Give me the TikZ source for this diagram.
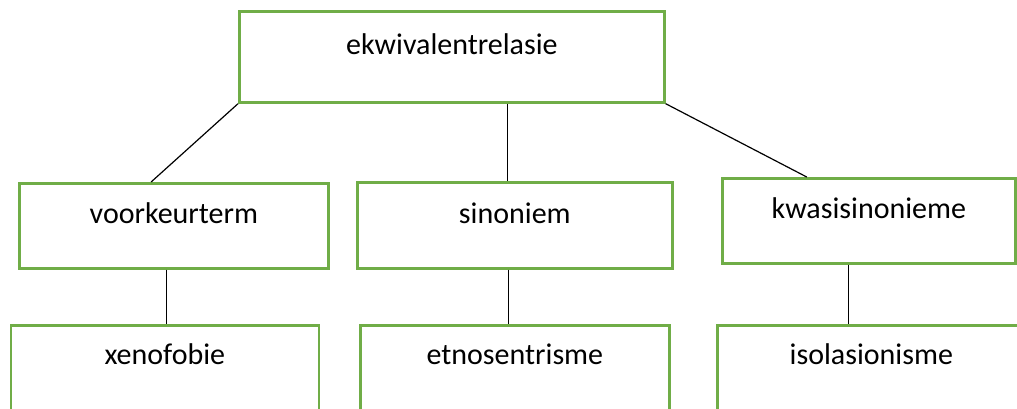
\documentclass[tikz,border=0pt]{standalone}
\usepackage{fontspec}
\setmainfont{Carlito}
\usetikzlibrary{calc}
\definecolor{boxgreen}{HTML}{70AD47}
\tikzset{
  termbox/.style={draw=boxgreen, line width=2.7pt, fill=white, inner sep=0pt,
    anchor=north west, font=\fontsize{30}{34}\selectfont},
  link/.style={draw=black, line width=1.2pt}
}
\begin{document}
\begin{tikzpicture}[x=1pt,y=-1pt]
\useasboundingbox (0,0) rectangle (1017,408);
\clip (0,0) rectangle (1017,408);
% top concept
\node[termbox, minimum width=425pt, text height=43pt, text depth=48pt] (top) at (238,10) {ekwivalentrelasie};
% second row
\node[termbox, minimum width=309pt, text height=40pt, text depth=45pt] (pref) at (18,182) {voorkeurterm};
\node[termbox, minimum width=315pt, text height=41pt, text depth=45pt] (syn) at (356,181) {sinoniem};
\node[termbox, minimum width=293pt, text height=40pt, text depth=45pt] (quasi) at (721,177) {kwasisinonieme};
% third row (runs past the lower edge)
\node[termbox, minimum width=308pt, text height=39pt, text depth=100pt] (xeno) at (9.5,324) {xenofobie};
\node[termbox, minimum width=309pt, text height=39pt, text depth=100pt] (etno) at (359,324) {etnosentrisme};
\node[termbox, minimum width=308pt, text height=39pt, text depth=100pt] (iso) at (716,324) {isolasionisme};
% connectors
\draw[link] (top.south west) -- ($(pref.north west)!0.427!(pref.north east)$);
\coordinate (tm) at ($(top.south west)!0.63!(top.south east)$);
\draw[link] (tm) -- (tm |- syn.north);
\draw[link] (top.south east) -- ($(quasi.north west)!0.29!(quasi.north east)$);
\coordinate (pb) at ($(pref.south west)!0.476!(pref.south east)$);
\draw[link] (pb) -- (pb |- xeno.north);
\coordinate (sb) at ($(syn.south west)!0.479!(syn.south east)$);
\draw[link] (sb) -- (sb |- etno.north);
\coordinate (qb) at ($(quasi.south west)!0.43!(quasi.south east)$);
\draw[link] (qb) -- (qb |- iso.north);
\end{tikzpicture}
\end{document}
